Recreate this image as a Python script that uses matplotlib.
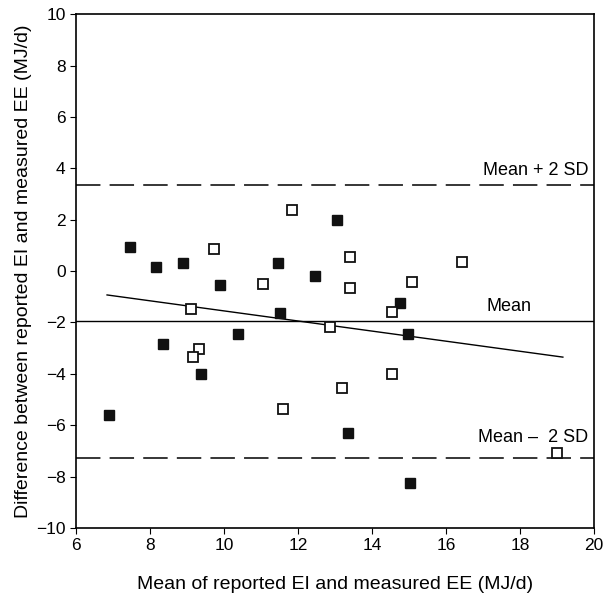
import matplotlib.pyplot as plt
import numpy as np

plt.rcParams['font.family'] = ['Liberation Sans', 'DejaVu Sans']

# filled squares
filled_x = [7.45, 8.15, 8.9, 9.9, 11.45, 12.45, 13.05, 14.75, 14.97, 11.51,
            8.35, 10.38, 9.38, 6.89, 13.35, 15.03]
filled_y = [0.95, 0.15, 0.3, -0.55, 0.3, -0.2, 2.0, -1.25, -2.45, -1.63,
            -2.84, -2.45, -4.0, -5.6, -6.3, -8.25]

# open squares
open_x = [9.73, 11.05, 11.84, 9.1, 12.86, 13.4, 13.4, 16.43, 15.08, 14.54,
          9.32, 9.16, 11.6, 14.54, 13.18, 19.0]
open_y = [0.86, -0.5, 2.37, -1.48, -2.18, 0.54, -0.66, 0.35, -0.43, -1.6,
          -3.03, -3.35, -5.37, -4.0, -4.55, -7.08]

mean_diff = -1.95
upper = 3.35
lower = -7.27

reg_x = [6.84, 19.16]
reg_y = [-0.93, -3.35]

fig = plt.figure(figsize=(6.03, 6.01), dpi=100)
ax = fig.add_axes([0.126, 0.1215, 0.859, 0.855])

ax.axhline(mean_diff, color='black', lw=1.0)
ax.axhline(upper, color='black', lw=1.1, dashes=(16, 6))
ax.axhline(lower, color='black', lw=1.1, dashes=(16, 6))
ax.plot(reg_x, reg_y, color='black', lw=1.0)

ax.plot(filled_x, filled_y, 's', ms=7.5, mfc='#111111', mec='#111111', ls='none')
ax.plot(open_x, open_y, 's', ms=7.5, mfc='white', mec='#111111', mew=1.3, ls='none')

ax.text(19.85, upper + 0.25, 'Mean + 2 SD', ha='right', va='bottom', fontsize=13)
ax.text(17.7, mean_diff + 0.25, 'Mean', ha='center', va='bottom', fontsize=13)
ax.text(19.85, lower + 0.45, 'Mean \u2013  2 SD', ha='right', va='bottom', fontsize=13)

ax.set_xlim(6, 20)
ax.set_ylim(-10, 10)
ax.set_xticks(np.arange(6, 21, 2))
ax.set_yticks(np.arange(-10, 11, 2))
ax.tick_params(direction='out', length=4, labelsize=12.5, top=False, right=False)
for s in ax.spines.values():
    s.set_linewidth(1.2)

ax.set_xlabel('Mean of reported EI and measured EE (MJ/d)', fontsize=14, labelpad=16)
ax.set_ylabel('Difference between reported EI and measured EE (MJ/d)', fontsize=14, labelpad=3)

fig.savefig('out.png', dpi=100)
